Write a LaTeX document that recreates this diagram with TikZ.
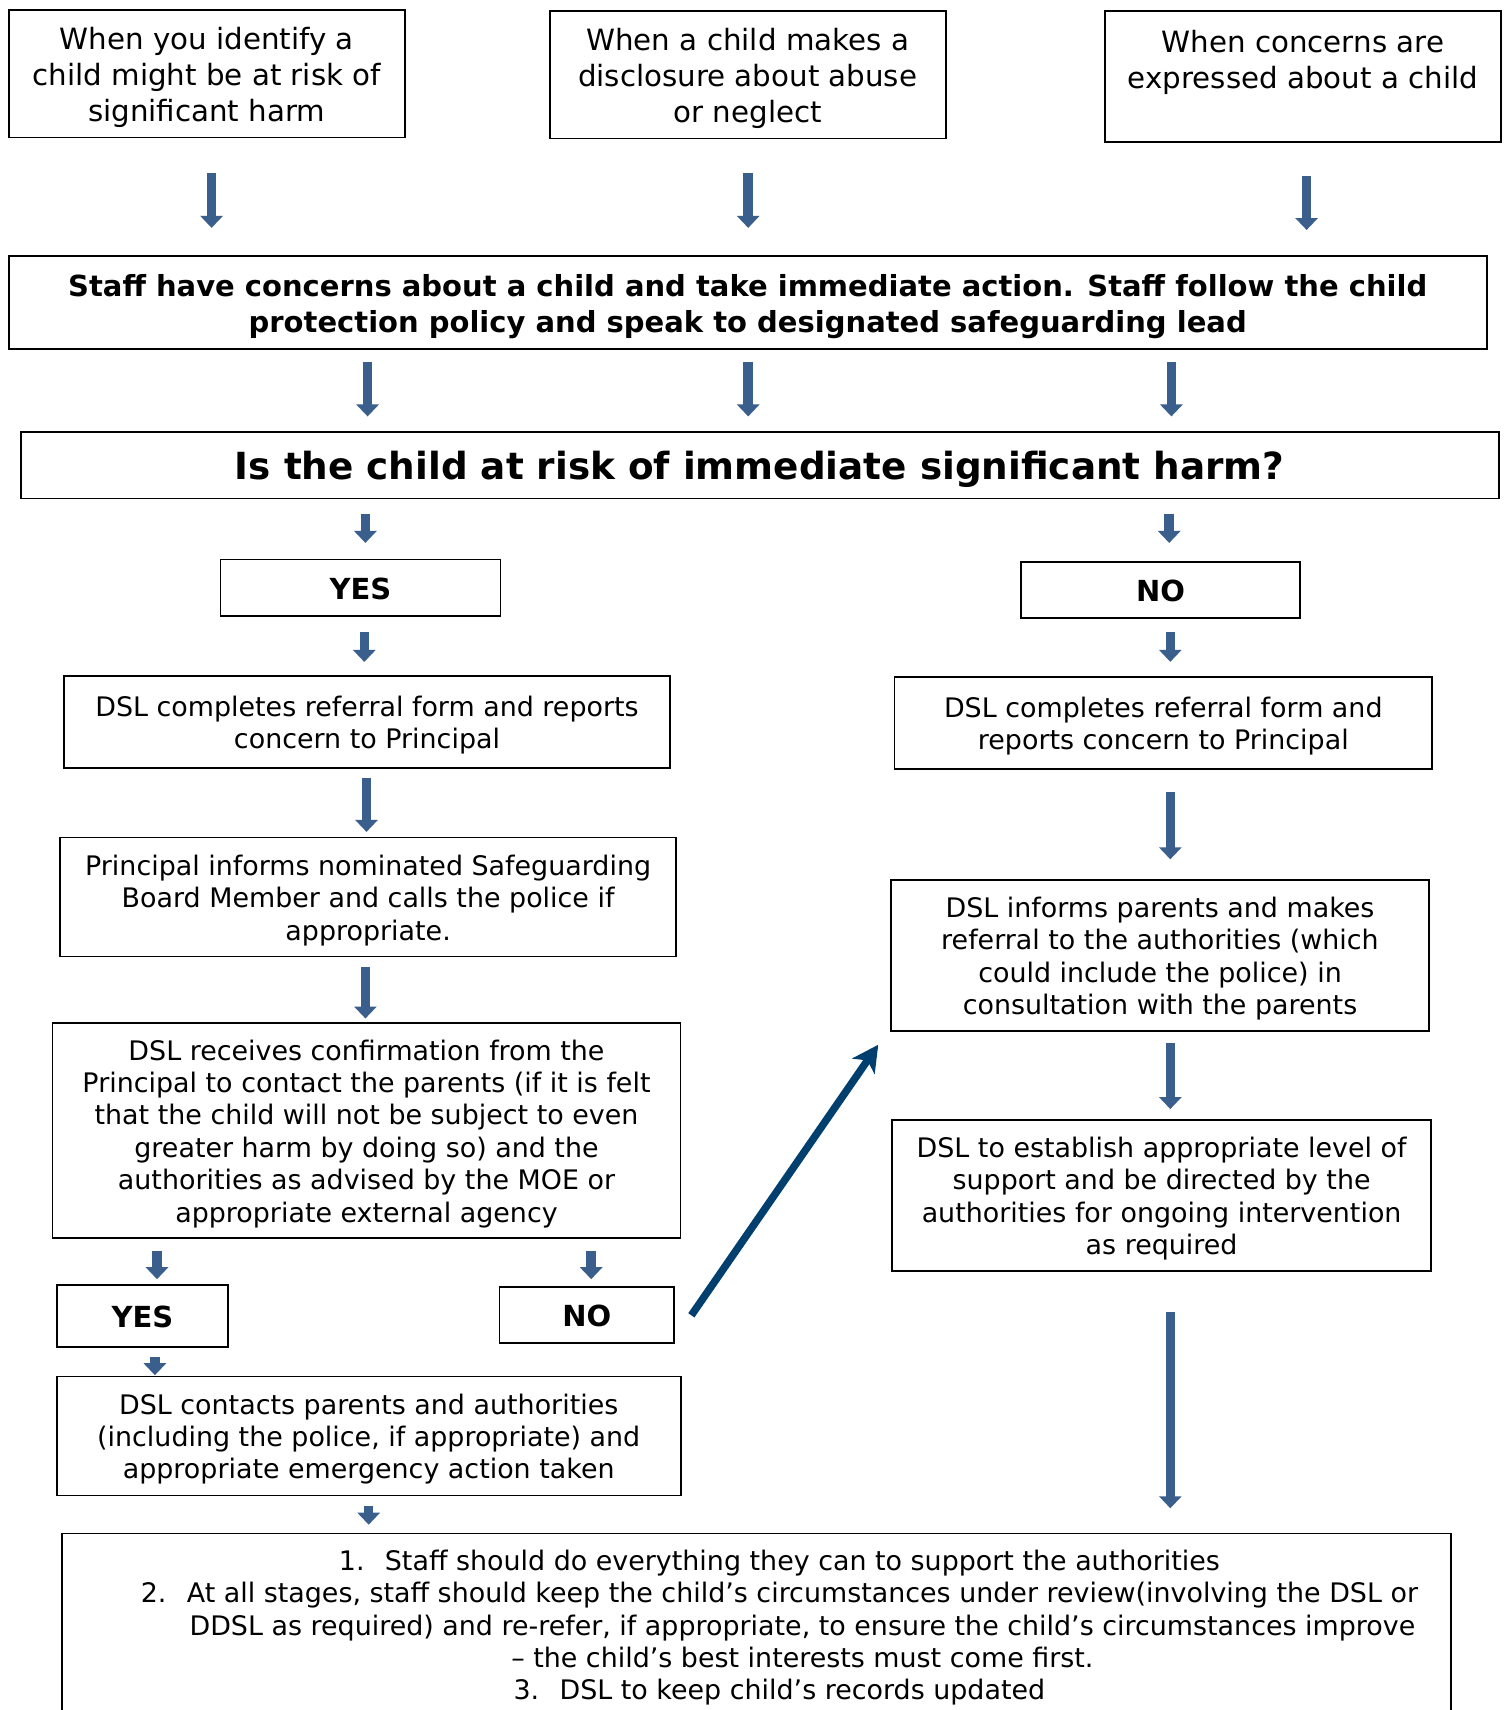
\documentclass[tikz,border=0pt]{standalone}
\usepackage{fontspec}
\setmainfont{DejaVu Sans}
\usetikzlibrary{arrows.meta}
\definecolor{flowblue}{RGB}{58,95,140}
\definecolor{navyblue}{RGB}{0,63,110}
\newcommand{\ls}{\rule[-0.173\baselineskip]{0pt}{\baselineskip}}

\begin{document}
\begin{tikzpicture}[x=1pt,y=-1pt,box/.style={draw,line width=1.8pt,inner sep=0pt,align=center,font=\fontsize{26.9}{32.4}\selectfont},topbox/.style={box,font=\fontsize{29.3}{36}\selectfont},boldbox/.style={box,font=\fontsize{29}{36}\selectfont\bfseries},flow/.style={-{Triangle[width=22pt,length=12pt]},line width=9.5pt,draw=flowblue},jump/.style={-{Stealth[width=27pt,length=26pt,inset=7pt]},line width=7.5pt,draw=navyblue}]

\useasboundingbox (0,0) rectangle (1504,1710);
\fill[white] (0,0) rectangle (1504,1710);
\clip (0,0) rectangle (1504,1710);

\node[topbox,minimum width=396pt,minimum height=127.6pt] (identify) at(206.7,73.6) {\ls When you identify a\\child might be at risk of\\significant harm\ls};
\node[topbox,minimum width=396pt,minimum height=127.6pt] (disclose) at(747.7,74.7) {\ls When a child makes a\\disclosure about abuse\\or neglect\ls};
\node[topbox,minimum width=396pt,minimum height=131pt] (express) at(1302.9,76.4) {\ls When concerns are\\expressed about a child\\\ls};
\node[boldbox,minimum width=1478pt,minimum height=92.7pt] (staff) at(747.7,302.7) {\ls Staff have concerns about a child and take immediate action. Staff follow the child\\protection policy and speak to designated safeguarding lead\ls};
\node[box,font=\fontsize{37.35}{44}\selectfont\bfseries,minimum width=1478pt,minimum height=66.5pt] (risk) at(759.7,465.2) {\ls Is the child at risk of immediate significant harm?\ls};
\node[boldbox,minimum width=280pt,minimum height=56.7pt] (yes) at(360.5,587.9) {\ls YES\ls};
\node[boldbox,minimum width=279pt,minimum height=56.7pt] (no) at(1160.5,590) {\ls NO\ls};
\node[box,minimum width=605.4pt,minimum height=91.6pt] (refleft) at(367,722) {\ls DSL completes referral form and reports\\concern to Principal\ls};
\node[box,minimum width=537.7pt,minimum height=91.6pt] (refright) at(1163.3,723.1) {\ls DSL completes referral form and\\reports concern to Principal\ls};
\node[box,minimum width=616pt,minimum height=119pt] (principal) at(368.1,897) {\ls Principal informs nominated Safeguarding\\Board Member and calls the police if\\appropriate.\ls};
\node[box,minimum width=537.7pt,minimum height=150.5pt] (informs) at(1160,955.5) {\ls DSL informs parents and makes\\referral to the authorities (which\\could include the police) in\\consultation with the parents\ls};
\node[box,minimum width=628pt,minimum height=215pt] (confirm) at(366.5,1130.5) {\ls DSL receives confirmation from the\\Principal to contact the parents (if it is felt\\that the child will not be subject to even\\greater harm by doing so) and the\\authorities as advised by the MOE or\\appropriate external agency\ls};
\node[box,minimum width=538.8pt,minimum height=150.5pt] (establish) at(1161.6,1195.4) {\ls DSL to establish appropriate level of\\support and be directed by the\\authorities for ongoing intervention\\as required\ls};
\node[boldbox,minimum width=171.3pt,minimum height=62.2pt] (yesb) at(142.4,1315.9) {\ls YES\ls};
\node[boldbox,minimum width=174.5pt,minimum height=55.6pt] (nob) at(586.8,1314.8) {\ls NO\ls};
\node[box,minimum width=624pt,minimum height=119pt] (contacts) at(368.7,1435.9) {\ls DSL contacts parents and authorities\\(including the police, if appropriate) and\\appropriate emergency action taken\ls};
\node[box,minimum width=1388.4pt,minimum height=182pt] (notes) at(756.4,1624.5) {\ls\hspace*{46pt}\makebox[46pt][l]{1.}Staff should do everything they can to support the authorities\\\hspace*{46pt}\makebox[46pt][l]{2.}At all stages, staff should keep the child’s circumstances under review(involving the DSL or\\\hspace*{92pt}DDSL as required) and re-refer, if appropriate, to ensure the child’s circumstances improve\\\hspace*{92pt}– the child’s best interests must come first.\\\hspace*{46pt}\makebox[46pt][l]{3.}DSL to keep child’s records updated\ls};

\draw[flow] ([xshift=4.9pt,yshift=-34.6pt]identify.south) -- ++(0,55);
\draw[flow] ([xshift=0.5pt,yshift=-33.5pt]disclose.south) -- ++(0,55);
\draw[flow] ([xshift=3.7pt,yshift=-32.7pt]express.south) -- ++(0,54.5);
\draw[flow] ([xshift=-380.1pt,yshift=-12pt]staff.south) -- ++(0,54.5);
\draw[flow] ([xshift=0.5pt,yshift=-12pt]staff.south) -- ++(0,54.5);
\draw[flow] ([xshift=423.7pt,yshift=-12pt]staff.south) -- ++(0,54.5);
\draw[flow] ([xshift=-394.3pt,yshift=-14.2pt]risk.south) -- ++(0,29.4);
\draw[flow] ([xshift=409.5pt,yshift=-14.2pt]risk.south) -- ++(0,29.4);
\draw[flow] ([xshift=3.8pt,yshift=-15.3pt]yes.south) -- ++(0,29.5);
\draw[flow] ([xshift=9.8pt,yshift=-13.1pt]no.south) -- ++(0,29.5);
\draw[flow] ([xshift=-0.5pt,yshift=-8.8pt]refleft.south) -- ++(0,54.4);
\draw[flow] ([xshift=7pt,yshift=-21.8pt]refright.south) -- ++(0,67.7);
\draw[flow] ([xshift=-2.7pt,yshift=-9.9pt]principal.south) -- ++(0,51.2);
\draw[flow] ([xshift=10.3pt,yshift=-10.9pt]informs.south) -- ++(0,66.5);
\draw[flow] ([xshift=-209.5pt,yshift=-12pt]confirm.south) -- ++(0,28.3);
\draw[flow] ([xshift=224.7pt,yshift=-12pt]confirm.south) -- ++(0,28.3);
\draw[flow] ([xshift=12.5pt,yshift=-8.7pt]yesb.south) -- ++(0,18.6);
\draw[flow] ([yshift=-9.7pt]contacts.south) -- ++(0,18.7);
\draw[flow] ([xshift=8.7pt,yshift=-40.4pt]establish.south) -- ++(0,196.3);
\draw[jump] ([xshift=16.4pt,yshift=-0.5pt]nob.east) -- ([xshift=-12pt,yshift=-13.1pt]informs.south west);
\end{tikzpicture}
\end{document}
